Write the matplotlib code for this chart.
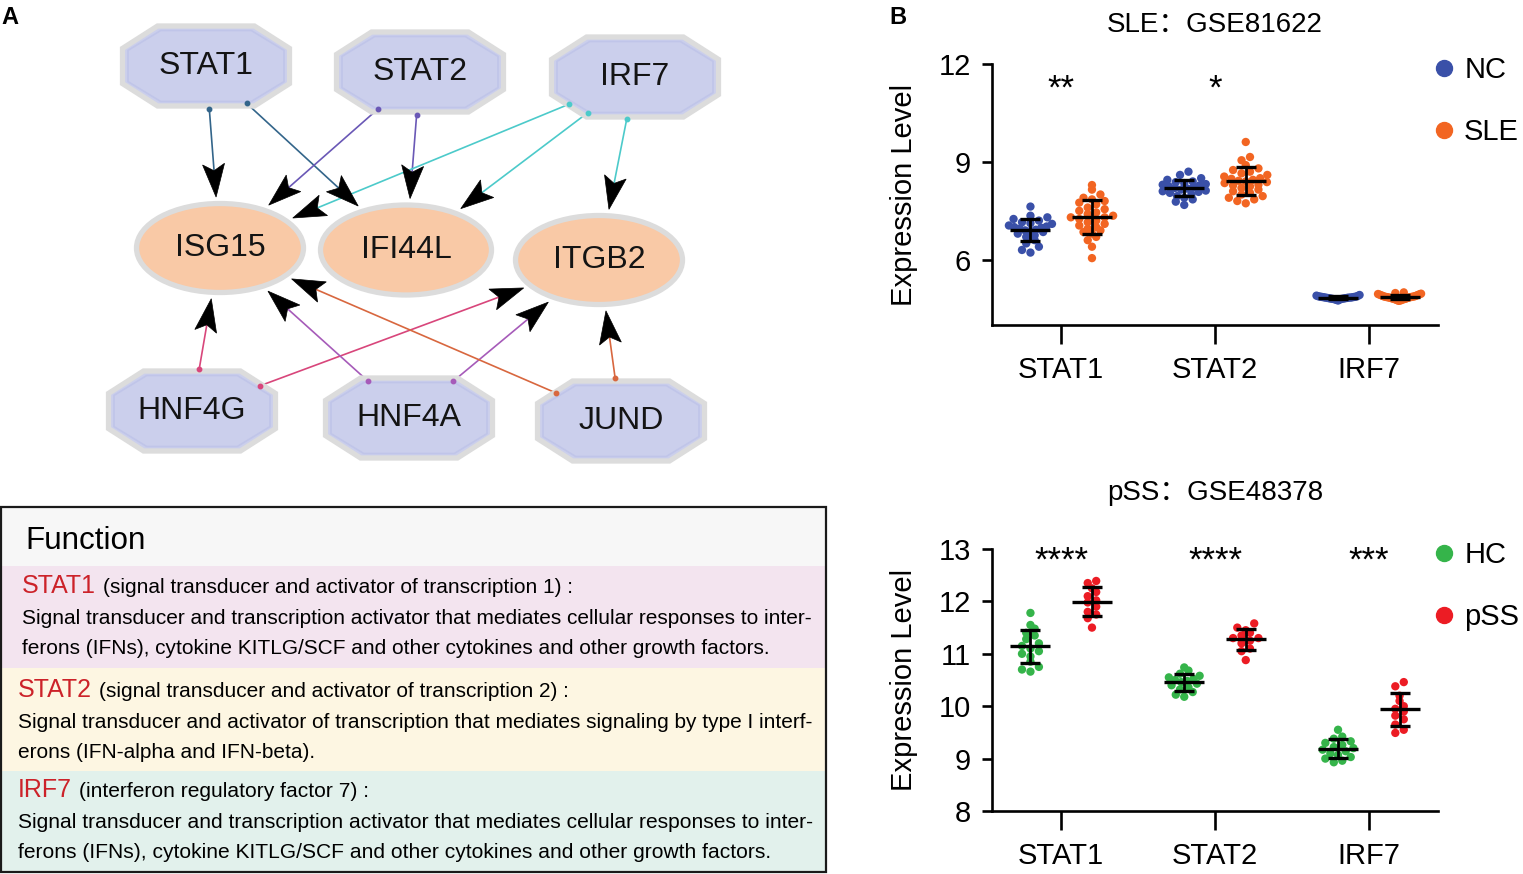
import numpy as np
import matplotlib
matplotlib.use('Agg')
import matplotlib.pyplot as plt
from matplotlib.patches import Polygon, Ellipse, Rectangle
from matplotlib.lines import Line2D

plt.rcParams['font.family'] = ['Liberation Sans', 'DejaVu Sans']

# ---------------------------------------------------------------------------
# Data
# ---------------------------------------------------------------------------
genes = ['STAT1', 'STAT2', 'IRF7']

# SLE: GSE81622
nc_stat1 = [7.63, 7.35, 7.30, 7.25, 7.20, 7.15, 7.12, 7.10, 7.05, 7.02, 7.00, 6.98, 6.95,
            6.92, 6.90, 6.88, 6.85, 6.80, 6.75, 6.70, 6.60, 6.50, 6.40, 6.30, 6.22]
sle_stat1 = [8.29, 8.15, 8.00, 7.90, 7.85, 7.80, 7.75, 7.70, 7.60, 7.55, 7.50, 7.45, 7.40,
             7.35, 7.30, 7.30, 7.25, 7.20, 7.15, 7.10, 7.05, 7.00, 6.95, 6.90, 6.85, 6.80,
             6.70, 6.60, 6.40, 6.05]
nc_stat2 = [8.70, 8.60, 8.50, 8.45, 8.40, 8.38, 8.35, 8.32, 8.30, 8.28, 8.25, 8.22, 8.20,
            8.18, 8.15, 8.12, 8.10, 8.08, 8.05, 8.00, 7.95, 7.90, 7.85, 7.78, 7.68]
sle_stat2 = [9.61, 9.15, 9.05, 8.90, 8.80, 8.75, 8.70, 8.65, 8.60, 8.55, 8.50, 8.48, 8.45,
             8.42, 8.40, 8.38, 8.35, 8.30, 8.28, 8.25, 8.20, 8.15, 8.10, 8.05, 8.00, 7.95,
             7.90, 7.85, 7.80, 7.73]
nc_irf7 = [4.92, 4.90, 4.89, 4.88, 4.87, 4.87, 4.86, 4.86, 4.85, 4.85, 4.84, 4.84, 4.84,
           4.83, 4.83, 4.82, 4.82, 4.81, 4.81, 4.80, 4.80, 4.79, 4.78, 4.77, 4.75]
sle_irf7 = [5.00, 4.98, 4.96, 4.95, 4.94, 4.93, 4.92, 4.91, 4.90, 4.89, 4.88, 4.87, 4.87,
            4.86, 4.86, 4.85, 4.85, 4.84, 4.84, 4.83, 4.82, 4.81, 4.80, 4.80, 4.79, 4.78,
            4.77, 4.76, 4.75, 4.74]
sle_stars = ['**', '*', '']

# pSS: GSE48378
hc_stat1 = [11.78, 11.55, 11.48, 11.40, 11.35, 11.28, 11.20, 11.15, 11.10, 11.05, 11.00,
            10.95, 10.85, 10.75, 10.70, 10.66]
pss_stat1 = [12.39, 12.35, 12.25, 12.18, 12.10, 12.02, 11.98, 11.90, 11.80, 11.75, 11.68, 11.50]
hc_stat2 = [10.74, 10.68, 10.62, 10.58, 10.55, 10.52, 10.50, 10.48, 10.46, 10.43, 10.40,
            10.36, 10.32, 10.27, 10.22, 10.18]
pss_stat2 = [11.58, 11.50, 11.45, 11.40, 11.35, 11.30, 11.30, 11.25, 11.20, 11.10, 11.05, 10.88]
hc_irf7 = [9.55, 9.42, 9.38, 9.33, 9.30, 9.26, 9.22, 9.20, 9.17, 9.14, 9.10, 9.07, 9.03,
           9.00, 8.96, 8.93]
pss_irf7 = [10.46, 10.38, 10.20, 10.10, 10.00, 9.95, 9.90, 9.82, 9.75, 9.65, 9.55, 9.49]
pss_stars = ['****', '****', '***']

# Network: regulators (octagons) and targets (ellipses)
regulators = ['STAT1', 'STAT2', 'IRF7', 'HNF4G', 'HNF4A', 'JUND']
targets = ['ISG15', 'IFI44L', 'ITGB2']
edges = [('STAT1', 'ISG15'), ('STAT1', 'IFI44L'),
         ('STAT2', 'ISG15'), ('STAT2', 'IFI44L'),
         ('IRF7', 'ISG15'), ('IRF7', 'IFI44L'), ('IRF7', 'ITGB2'),
         ('HNF4G', 'ISG15'), ('HNF4G', 'ITGB2'),
         ('HNF4A', 'ISG15'), ('HNF4A', 'ITGB2'),
         ('JUND', 'ISG15'), ('JUND', 'ITGB2')]

# Function box text
func_names = ['STAT1', 'STAT2', 'IRF7']
func_full = ['(signal transducer and activator of transcription 1) :',
             '(signal transducer and activator of transcription 2) :',
             '(interferon regulatory factor 7) :']
func_desc = [
    ['Signal transducer and transcription activator that mediates cellular responses to inter-',
     'ferons (IFNs), cytokine KITLG/SCF and other cytokines and other growth factors.'],
    ['Signal transducer and activator of transcription that mediates signaling by type I interf-',
     'erons (IFN-alpha and IFN-beta).'],
    ['Signal transducer and transcription activator that mediates cellular responses to inter-',
     'ferons (IFNs), cytokine KITLG/SCF and other cytokines and other growth factors.'],
]

# ---------------------------------------------------------------------------
# Figure
# ---------------------------------------------------------------------------
W, H = 1523, 874
fig = plt.figure(figsize=(W / 100, H / 100), dpi=100)
renderer = fig.canvas.get_renderer()

# Pixel-coordinate overlay for panel A
axP = fig.add_axes([0, 0, 1, 1])
axP.set_xlim(0, W)
axP.set_ylim(H, 0)
axP.axis('off')

axP.text(10, 17, 'A', fontsize=17, fontweight='bold', ha='center', va='center')
axP.text(898, 17, 'B', fontsize=17, fontweight='bold', ha='center', va='center')

# --- network layout (pixel positions) ---
node_pos = {'STAT1': (206, 66), 'STAT2': (420, 72), 'IRF7': (635, 77),
            'HNF4G': (192, 411), 'HNF4A': (409, 418), 'JUND': (621, 421),
            'ISG15': (220, 248), 'IFI44L': (406, 250), 'ITGB2': (599, 260)}
node_size = {'ISG15': (172, 94), 'IFI44L': (176, 95), 'ITGB2': (172, 94)}
oct_size = (172, 85)
edge_colors = {'STAT1': '#33658a', 'STAT2': '#6a58b6', 'IRF7': '#4ccaca',
               'HNF4G': '#d8467b', 'HNF4A': '#a65bb9', 'JUND': '#d8673f'}


def octagon(cx, cy, w, h, fx=0.21, fy=0.28):
    a, b = w / 2, h / 2
    cx_, cy_ = w * fx, h * fy
    return [(cx - a + cx_, cy - b), (cx + a - cx_, cy - b), (cx + a, cy - b + cy_),
            (cx + a, cy + b - cy_), (cx + a - cx_, cy + b), (cx - a + cx_, cy + b),
            (cx - a, cy + b - cy_), (cx - a, cy - b + cy_)]


def boundary(name, ux, uy, extra=0.0):
    if name in node_size:
        a, b = node_size[name][0] / 2 + extra, node_size[name][1] / 2 + extra
    else:
        a, b = oct_size[0] / 2 * 0.98 + extra, oct_size[1] / 2 * 0.98 + extra
    t = 1.0 / np.sqrt((ux / a) ** 2 + (uy / b) ** 2)
    cx, cy = node_pos[name]
    return cx + t * ux, cy + t * uy


# edges first (below nodes)
for src, dst in edges:
    sx, sy = node_pos[src]
    dx, dy = node_pos[dst]
    v = np.array([dx - sx, dy - sy], float)
    u = v / np.hypot(*v)
    p0 = boundary(src, u[0], u[1], extra=1)
    tip = boundary(dst, -u[0], -u[1], extra=4)
    L, Wd = 33, 22
    nvec = np.array([-u[1], u[0]])
    tip = np.array(tip)
    base = tip - L * u
    notch = tip - 0.8 * L * u
    axP.plot([p0[0], notch[0]], [p0[1], notch[1]], color=edge_colors[src], lw=1.2, zorder=2)
    axP.plot(p0[0], p0[1], 'o', ms=3.2, color=edge_colors[src], zorder=6)
    head = [tuple(tip), tuple(base + Wd / 2 * nvec), tuple(notch), tuple(base - Wd / 2 * nvec)]
    axP.add_patch(Polygon(head, closed=True, facecolor='black', edgecolor='black',
                          lw=0.5, zorder=3))

for name in regulators:
    cx, cy = node_pos[name]
    axP.add_patch(Polygon(octagon(cx, cy, oct_size[0] - 5, oct_size[1] - 5), closed=True,
                          facecolor='#cbcfec', edgecolor='#dcdcdc', lw=3.8, zorder=4))
    axP.add_patch(Polygon(octagon(cx, cy, oct_size[0] - 16, oct_size[1] - 14), closed=True,
                          facecolor='none', edgecolor='#c0c5e9', lw=1.2, zorder=4))
    axP.text(cx, cy, name, fontsize=23, ha='center', va='center', color='#141414', zorder=5)

for name in targets:
    cx, cy = node_pos[name]
    w, h = node_size[name]
    axP.add_patch(Ellipse((cx, cy), w - 5, h - 5, facecolor='#f9c9a6', edgecolor='#dcdcdc',
                          lw=3.8, zorder=4))
    axP.text(cx, cy, name, fontsize=23, ha='center', va='center', color='#141414', zorder=5)

# --- function box ---
bands = [(507, 566, '#f7f7f7'), (566, 668, '#f3e4ef'), (668, 771, '#fdf6e2'),
         (771, 872, '#e2f1ec')]
for y0, y1, c in bands:
    axP.add_patch(Rectangle((1, y0), 825, y1 - y0, facecolor=c, edgecolor='none', zorder=1))
axP.add_patch(Rectangle((1, 507), 825, 365, facecolor='none', edgecolor='#1a1a1a', lw=1.6,
                        zorder=6))


def fit(t, width):
    w = t.get_window_extent(renderer).width
    t.set_fontsize(t.get_fontsize() * width / w)
    return t


t = axP.text(25, 541, 'Function', fontsize=20, ha='left', va='center', zorder=7)
fit(t, 120)

head_y = [586, 690, 790]
body_y = [(618, 649), (722, 753), (822, 853)]
x_left = [22, 18, 18]
head_w = [474, 474, 292]
for i in range(3):
    red = axP.text(x_left[i], head_y[i], func_names[i], fontsize=18, color='#cc2229',
                   ha='left', va='center', zorder=7)
    blk = axP.annotate(func_full[i], xy=(1, 0), xycoords=red, xytext=(5, 0.5),
                       textcoords='offset points', ha='left', va='bottom', fontsize=14,
                       zorder=7)
    fit(blk, head_w[i])
    l1 = axP.text(x_left[i], body_y[i][0], func_desc[i][0], fontsize=14, ha='left',
                  va='center', zorder=7)
    fit(l1, 818 - x_left[i])
    axP.text(x_left[i], body_y[i][1], func_desc[i][1], fontsize=l1.get_fontsize(),
             ha='left', va='center', zorder=7)

# ---------------------------------------------------------------------------
# Panel B: dot plots
# ---------------------------------------------------------------------------


def dot_offsets(vals, bin_h, step, half):
    vals = np.asarray(vals, float)
    offs = np.zeros(len(vals))
    bins = np.floor((vals - vals.min()) / bin_h).astype(int)
    for b in np.unique(bins):
        idx = np.where(bins == b)[0]
        k = len(idx)
        s = step if k < 2 else min(step, 2 * half / (k - 1))
        pos = (np.arange(k) - (k - 1) / 2) * s
        pos = pos[np.argsort(np.abs(pos), kind='stable')]
        order = idx[np.argsort(vals[idx])]
        offs[order] = pos
    return offs


def draw_group(ax, x0, vals, color, bin_h, step, half):
    vals = np.asarray(vals, float)
    xs = x0 + dot_offsets(vals, bin_h, step, half)
    ax.scatter(xs, vals, s=36, color=color, edgecolors='none', zorder=2)
    m, sd = vals.mean(), vals.std(ddof=1)
    ax.hlines(m, x0 - 0.13, x0 + 0.13, color='black', lw=2.4, zorder=3)
    ax.errorbar(x0, m, yerr=sd, fmt='none', ecolor='black', elinewidth=2, capsize=7,
                capthick=2.4, zorder=3)


def style_axes(ax, ylim, yticks):
    ax.set_xlim(-0.45, 2.45)
    ax.set_ylim(*ylim)
    ax.set_yticks(yticks)
    ax.set_xticks(range(len(genes)))
    ax.set_xticklabels(genes)
    for s in ['top', 'right']:
        ax.spines[s].set_visible(False)
    for s in ['left', 'bottom']:
        ax.spines[s].set_linewidth(1.9)
    ax.tick_params(axis='y', length=7, width=1.9, labelsize=21, pad=8)
    ax.tick_params(axis='x', length=14, width=1.9, labelsize=21, pad=8)
    ax.set_ylabel('Expression Level', fontsize=21)
    ax.yaxis.set_label_coords(-0.165, 0.5)
    ax.patch.set_alpha(0)


def add_legend(ax, labels, colors):
    handles = [Line2D([], [], marker='o', ls='', color=c, ms=11.5) for c in colors]
    ax.legend(handles=handles, labels=labels, loc='upper left',
              bbox_to_anchor=(0.99, 1.03), frameon=False, fontsize=21, handlelength=0.7,
              handletextpad=0.35, labelspacing=1.17, borderpad=0, borderaxespad=0)


title_fam = ['Liberation Sans', 'Noto Sans CJK SC', 'DejaVu Sans']

# top: SLE
axT = fig.add_axes([992 / W, 1 - 325 / H, 446 / W, 261 / H])
ctrl = [nc_stat1, nc_stat2, nc_irf7]
case = [sle_stat1, sle_stat2, sle_irf7]
for i in range(3):
    draw_group(axT, i - 0.2, ctrl[i], '#3a50a8', 0.22, 0.055, 0.14)
    draw_group(axT, i + 0.2, case[i], '#f26522', 0.22, 0.055, 0.14)
    axT.text(i, 11.22, sle_stars[i], fontsize=25, ha='center', va='center')
style_axes(axT, (4, 12), [6, 9, 12])
fig.text(1215 / W, 1 - 25 / H, 'SLE：GSE81622', fontsize=20, ha='center', va='center',
         family=title_fam)
add_legend(axT, ['NC', 'SLE'], ['#3a50a8', '#f26522'])

# bottom: pSS
axB = fig.add_axes([992 / W, 1 - 811 / H, 446 / W, 262 / H])
ctrl = [hc_stat1, hc_stat2, hc_irf7]
case = [pss_stat1, pss_stat2, pss_irf7]
for i in range(3):
    draw_group(axB, i - 0.2, ctrl[i], '#35b44a', 0.14, 0.055, 0.1)
    draw_group(axB, i + 0.2, case[i], '#ec1c24', 0.14, 0.055, 0.1)
    axB.text(i, 12.76, pss_stars[i], fontsize=25, ha='center', va='center')
style_axes(axB, (8, 13), [8, 9, 10, 11, 12, 13])
fig.text(1215 / W, 1 - 493 / H, 'pSS：GSE48378', fontsize=20, ha='center', va='center',
         family=title_fam)
add_legend(axB, ['HC', 'pSS'], ['#35b44a', '#ec1c24'])

fig.savefig('out.png', dpi=100)
